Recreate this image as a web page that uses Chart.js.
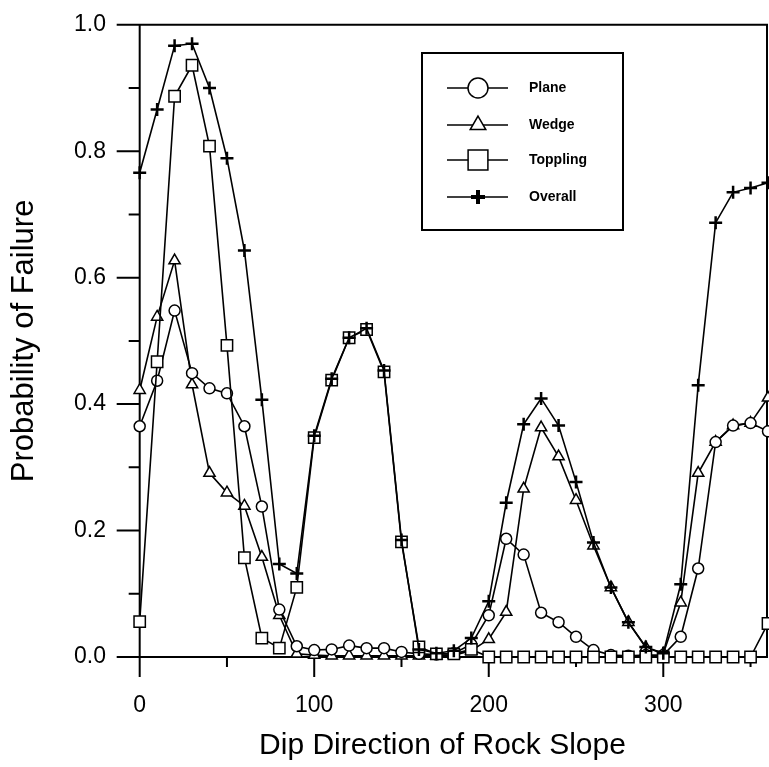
<!DOCTYPE html>
<html>
<head>
<meta charset="utf-8">
<script src="https://cdn.jsdelivr.net/npm/chart.js@4/dist/chart.umd.min.js"></script>
<style>
  body { margin: 0; background: #fff; }
</style>
</head>
<body>
<canvas id="myChart" width="769" height="767"></canvas>
<script>
/*---------------------------- data ------------------------------------*/
var dipDirection = [0,10,20,30,40,50,60,70,80,90,100,110,120,130,140,150,160,170,180,
  190,200,210,220,230,240,250,260,270,280,290,300,310,320,330,340,350,360];

var plane = [0.365,0.437,0.548,0.449,0.425,0.417,0.365,0.238,0.075,0.017,0.011,0.012,0.018,0.014,0.014,0.008,0.005,0.004,0.006,0.02,
  0.066,0.187,0.162,0.07,0.055,0.032,0.011,0.003,0.002,0.003,0.003,0.032,0.14,0.34,0.366,0.37,0.357];
var wedge = [0.422,0.538,0.627,0.431,0.291,0.26,0.239,0.158,0.066,0.005,0.003,0.002,0.002,0.002,0.002,0.002,0.002,0.002,0.003,0.01,
  0.028,0.071,0.266,0.363,0.317,0.248,0.176,0.11,0.055,0.015,0.005,0.086,0.291,0.34,0.366,0.37,0.41];
var toppling = [0.056,0.467,0.887,0.936,0.808,0.493,0.157,0.03,0.014,0.11,0.347,0.438,0.505,0.518,0.451,0.182,0.016,0.005,0.005,0.012,
  0,0,0,0,0,0,0,0,0,0,0,0,0,0,0,0,0.053];
var overall = [0.766,0.866,0.967,0.97,0.9,0.789,0.643,0.407,0.147,0.132,0.35,0.44,0.505,0.52,0.453,0.185,0.012,0.006,0.01,0.03,
  0.088,0.244,0.368,0.409,0.366,0.277,0.181,0.11,0.055,0.016,0.006,0.115,0.43,0.687,0.735,0.742,0.75];

var xTicks = [0,100,200,300];
var xMinorTicks = [50,150,250,350];
var seriesNames = ["Plane","Wedge","Toppling","Overall"];

var FONT = "'Liberation Sans', Arial, sans-serif";

function pts(arr) {
  return arr.map(function(v, i) { return {x: dipDirection[i], y: v}; });
}

/*---------------------------- axes frame ------------------------------------*/
var frame = {
  id: "frame",
  beforeDatasetsDraw: function(chart) {
    var ctx = chart.ctx, a = chart.chartArea, xs = chart.scales.x, ys = chart.scales.y;
    var x0 = xs.getPixelForValue(0), y0 = ys.getPixelForValue(0), y1 = ys.getPixelForValue(1);
    ctx.save();
    ctx.strokeStyle = "#000";
    ctx.lineWidth = 2;
    ctx.beginPath();
    ctx.moveTo(a.left, y0); ctx.lineTo(a.right, y0);
    ctx.moveTo(a.left, y1); ctx.lineTo(a.right, y1);
    ctx.moveTo(x0, y1); ctx.lineTo(x0, y0 + 20);
    ctx.moveTo(a.right - 1, y1); ctx.lineTo(a.right - 1, y0);
    for (var i = 0; i <= 10; i++) {
      var py = ys.getPixelForValue(i / 10);
      var len = (i % 2 == 0) ? 23 : 11;
      ctx.moveTo(x0 - len, py); ctx.lineTo(x0, py);
    }
    xTicks.forEach(function(v) {
      var px = xs.getPixelForValue(v);
      ctx.moveTo(px, y0); ctx.lineTo(px, y0 + 20);
    });
    xMinorTicks.forEach(function(v) {
      var px = xs.getPixelForValue(v);
      ctx.moveTo(px, y0); ctx.lineTo(px, y0 + 10);
    });
    ctx.stroke();
    ctx.restore();
  }
};

/*---------------------------- legend box ------------------------------------*/
var legendSizes = {circle: 10, triangle: 9, rect: 14, cross: 7};

var legendBox = {
  id: "legendBox",
  afterDraw: function(chart) {
    var ctx = chart.ctx;
    var rows = [88, 125, 160, 197];
    ctx.save();
    ctx.fillStyle = "#fff";
    ctx.fillRect(422, 53, 201, 177);
    ctx.strokeStyle = "#000";
    ctx.lineWidth = 2;
    ctx.strokeRect(422, 53, 201, 177);
    chart.data.datasets.forEach(function(ds) {
      var idx = seriesNames.indexOf(ds.label);
      var y = rows[idx];
      ctx.strokeStyle = "#000";
      ctx.lineWidth = 1.5;
      ctx.beginPath();
      ctx.moveTo(447, y); ctx.lineTo(508, y);
      ctx.stroke();
      ctx.fillStyle = "#fff";
      ctx.strokeStyle = "#000";
      var bw = ds.pointStyle == "cross" ? 4 : 1.5;
      ctx.lineWidth = bw;
      Chart.helpers.drawPoint(ctx, {pointStyle: ds.pointStyle, radius: legendSizes[ds.pointStyle], rotation: 0, borderWidth: bw}, 478, y);
      ctx.fillStyle = "#000";
      ctx.font = "bold 14px " + FONT;
      ctx.textBaseline = "middle";
      ctx.fillText(ds.label, 529, y);
    });
    ctx.restore();
  }
};

function series(label, data, style, radius, order) {
  return {
    label: label,
    data: pts(data),
    borderColor: "#000",
    borderWidth: 1.6,
    pointStyle: style,
    pointRadius: radius,
    pointBorderWidth: style == "cross" ? 2.5 : 1.5,
    pointBackgroundColor: "#fff",
    pointBorderColor: "#000",
    fill: false,
    tension: 0,
    clip: false,
    order: order
  };
}

new Chart("myChart", {
  type: "line",
  data: {
    datasets: [
      series("Plane", plane, "circle", 5.5, 2),
      series("Wedge", wedge, "triangle", 6.5, 3),
      series("Toppling", toppling, "rect", 8, 1),
      series("Overall", overall, "cross", 6.5, 0)
    ]
  },
  options: {
    responsive: false,
    animation: false,
    layout: {autoPadding: false, padding: {top: 21, right: 1, left: 0, bottom: 0}},
    plugins: {legend: {display: false}, tooltip: {enabled: false}},
    scales: {
      x: {
        type: "linear",
        min: -13,
        max: 360,
        afterFit: function(s) { s.height = 110; },
        afterBuildTicks: function(s) { s.ticks = xTicks.map(function(v) { return {value: v}; }); },
        grid: {display: false, drawTicks: false},
        border: {display: false},
        ticks: {color: "#000", padding: 35, maxRotation: 0, font: {size: 23, family: FONT}},
        title: {display: true, text: "Dip Direction of Rock Slope", color: "#000", padding: {top: 0, bottom: 3},
          font: {size: 30, family: FONT}}
      },
      y: {
        min: 0,
        max: 1,
        afterFit: function(s) { s.width = 117; },
        grid: {display: false, drawTicks: false},
        border: {display: false},
        ticks: {stepSize: 0.2, color: "#000", padding: 11, callback: function(v) { return v.toFixed(1); },
          font: {size: 23, family: FONT}},
        title: {display: true, text: "Probability of Failure", color: "#000", padding: {top: 6, bottom: 0},
          font: {size: 31, family: FONT}}
      }
    }
  },
  plugins: [frame, legendBox]
});
</script>
</body>
</html>
